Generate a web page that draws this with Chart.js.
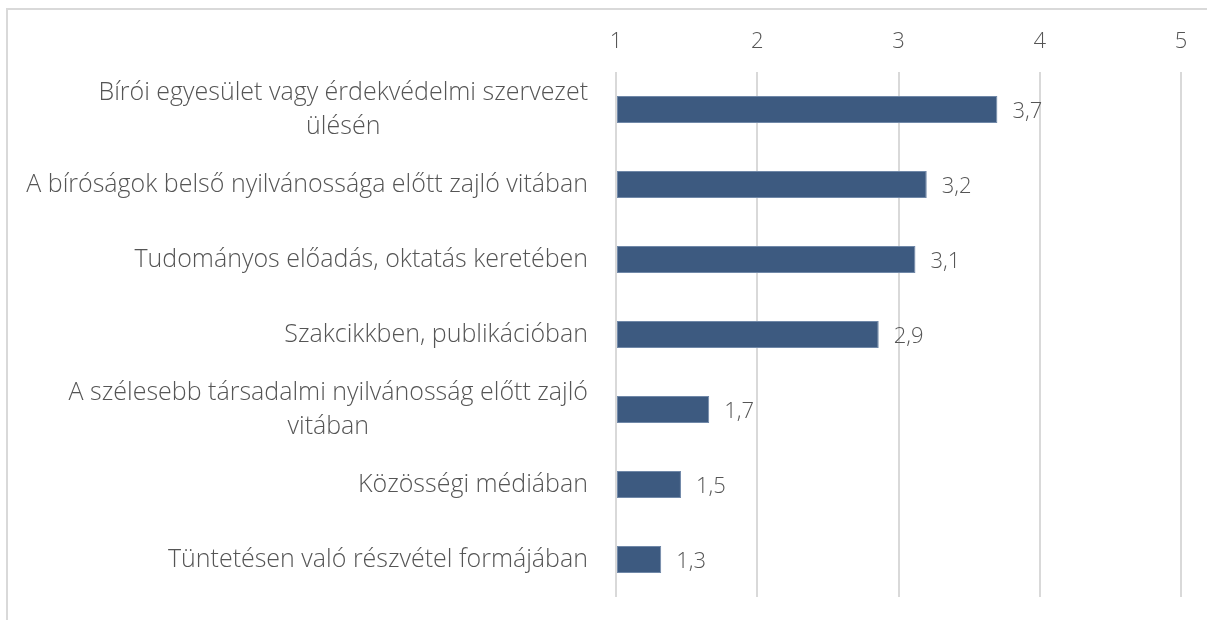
<!DOCTYPE html>
<html>
<head>
<meta charset="utf-8">
<script src="https://cdn.jsdelivr.net/npm/chart.js@4/dist/chart.umd.min.js"></script>
<style>
  html, body { margin: 0; padding: 0; background: #fff; }
  .frame {
    position: absolute; left: 6px; top: 8px; width: 1220px; height: 640px;
    border: 2px solid #d9d9d9; box-sizing: border-box;
  }
  #wrap { position: absolute; left: 0; top: 0; width: 1207px; height: 620px; }
</style>
</head>
<body>
<div class="frame"></div>
<div id="wrap"><canvas id="chart"></canvas></div>
<script>
// Categories (top to bottom) and mean scores
const categories = [
    ['Bírói egyesület vagy érdekvédelmi szervezet', 'ülésén'],
    'A bíróságok belső nyilvánossága előtt zajló vitában',
    'Tudományos előadás, oktatás keretében',
    'Szakcikkben, publikációban',
    ['A szélesebb társadalmi nyilvánosság előtt zajló', 'vitában'],
    'Közösségi médiában',
    'Tüntetésen való részvétel formájában'
];
const scores = [3.7, 3.2, 3.12, 2.86, 1.66, 1.46, 1.32];
const scaleTicks = [1, 2, 3, 4, 5];

const textColor = '#555555';
const fontFamily = '"Open Sans", "Liberation Sans", sans-serif';

// Category labels: lines centered inside a right-aligned block (like Excel)
const categoryLabels = {
    id: 'categoryLabels',
    afterDraw(chart) {
        const ctx = chart.ctx;
        const yScale = chart.scales.y;
        const right = chart.chartArea.left - 28;
        const lineH = 34;
        ctx.save();
        ctx.font = '300 25px ' + fontFamily;
        ctx.fillStyle = textColor;
        ctx.textAlign = 'center';
        ctx.textBaseline = 'middle';
        categories.forEach((cat, i) => {
            const lines = Array.isArray(cat) ? cat : [cat];
            const w = Math.max(...lines.map(l => ctx.measureText(l).width));
            const cx = right - w / 2;
            const cy = yScale.getPixelForValue(i);
            lines.forEach((l, j) => {
                ctx.fillText(l, cx, cy + (j - (lines.length - 1) / 2) * lineH);
            });
        });
        ctx.restore();
    }
};

// Value labels at the end of each bar
const valueLabels = {
    id: 'valueLabels',
    afterDatasetsDraw(chart) {
        const ctx = chart.ctx;
        const meta = chart.getDatasetMeta(0);
        ctx.save();
        ctx.font = '300 22px ' + fontFamily;
        ctx.fillStyle = textColor;
        ctx.textAlign = 'left';
        ctx.textBaseline = 'middle';
        meta.data.forEach((bar, i) => {
            ctx.fillText(scores[i].toFixed(1).replace('.', ','), bar.x + 15, bar.y + 2);
        });
        ctx.restore();
    }
};

new Chart(document.getElementById('chart'), {
    type: 'bar',
    data: {
        labels: categories.map(c => Array.isArray(c) ? c.join(' ') : c),
        datasets: [{
            data: scores,
            base: 1,
            backgroundColor: '#3d5a80',
            borderColor: '#7088a8',
            borderWidth: 1,
            borderSkipped: false,
            barPercentage: 0.36,
            categoryPercentage: 1
        }]
    },
    options: {
        indexAxis: 'y',
        responsive: true,
        maintainAspectRatio: false,
        animation: false,
        layout: { padding: { top: 0, right: 26, bottom: 23, left: 0 } },
        plugins: {
            legend: { display: false },
            tooltip: { enabled: false }
        },
        scales: {
            x: {
                position: 'top',
                min: 1,
                max: 5,
                afterBuildTicks: scale => {
                    scale.ticks = scaleTicks.map(v => ({ value: v }));
                },
                afterFit: scale => { scale.height = 72; },
                grid: { color: '#d9d9d9', lineWidth: 2, drawTicks: false },
                border: { display: false },
                ticks: {
                    color: textColor,
                    font: { family: fontFamily, size: 22, weight: '300' },
                    padding: 17,
                    maxRotation: 0
                }
            },
            y: {
                afterFit: scale => { scale.width = 616; },
                grid: { display: false },
                border: { display: false },
                ticks: { display: false }
            }
        }
    },
    plugins: [categoryLabels, valueLabels]
});
</script>
</body>
</html>
